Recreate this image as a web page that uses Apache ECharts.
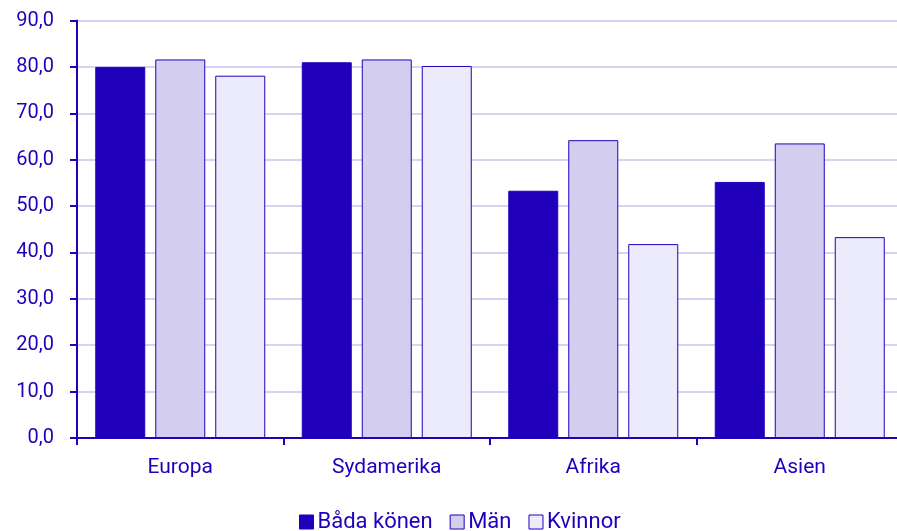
<!DOCTYPE html>
<html><head><meta charset="utf-8">
<script src="https://cdn.jsdelivr.net/npm/echarts@6/dist/echarts.min.js"></script>
<style>html,body{margin:0;padding:0;background:#fff}#c{width:897px;height:531px}</style>
</head><body><div id="c"></div>
<script>
const categories = ['Europa', 'Sydamerika', 'Afrika', 'Asien'];
const seriesNames = ['Båda könen', 'Män', 'Kvinnor'];
const bada = [80.0, 81.0, 53.3, 55.2];
const man = [81.6, 81.6, 64.2, 63.5];
const kvinnor = [78.1, 80.2, 41.8, 43.3];
const colors = ['#2000bb', '#d3cef0', '#ecebfc'];
const ink = '#2000bb';

const chart = echarts.init(document.getElementById('c'));
const mk = (name, data, color) => ({
  name, type: 'bar', data, barWidth: 50, barGap: '20%',
  itemStyle: { color, borderColor: ink, borderWidth: 1 },
  emphasis: { disabled: true }
});
chart.setOption({
  animation: false,
  textStyle: { fontFamily: 'Roboto' },
  grid: { left: 77, width: 826, top: 20.5, height: 417.5, outerBoundsMode: 'none', containLabel: false },
  legend: {
    top: 506, left: 294, itemWidth: 14, itemHeight: 14, itemGap: 17,
    icon: 'rect',
    textStyle: { color: ink, fontSize: 22, fontFamily: 'Roboto', padding: [0, 0, 0, -1] },
    data: seriesNames.map((n, i) => ({ name: n, itemStyle: { color: colors[i], borderColor: ink, borderWidth: 1 } }))
  },
  xAxis: {
    type: 'category', data: categories,
    axisLine: { lineStyle: { color: ink, width: 2 } },
    axisTick: { show: true, length: 7, lineStyle: { color: ink, width: 2 } },
    axisLabel: { color: ink, fontSize: 21, margin: 19 }
  },
  yAxis: {
    type: 'value', min: 0, max: 90, interval: 10,
    axisLine: { show: true, lineStyle: { color: ink, width: 2 } },
    axisTick: { show: true, length: 7, lineStyle: { color: ink, width: 2 } },
    splitLine: { lineStyle: { color: '#d6d4f2', width: 2 } },
    axisLabel: { color: ink, fontSize: 20, margin: 23, formatter: v => v.toFixed(1).replace('.', ',') }
  },
  series: [mk(seriesNames[0], bada, colors[0]), mk(seriesNames[1], man, colors[1]), mk(seriesNames[2], kvinnor, colors[2])]
});
</script></body></html>
